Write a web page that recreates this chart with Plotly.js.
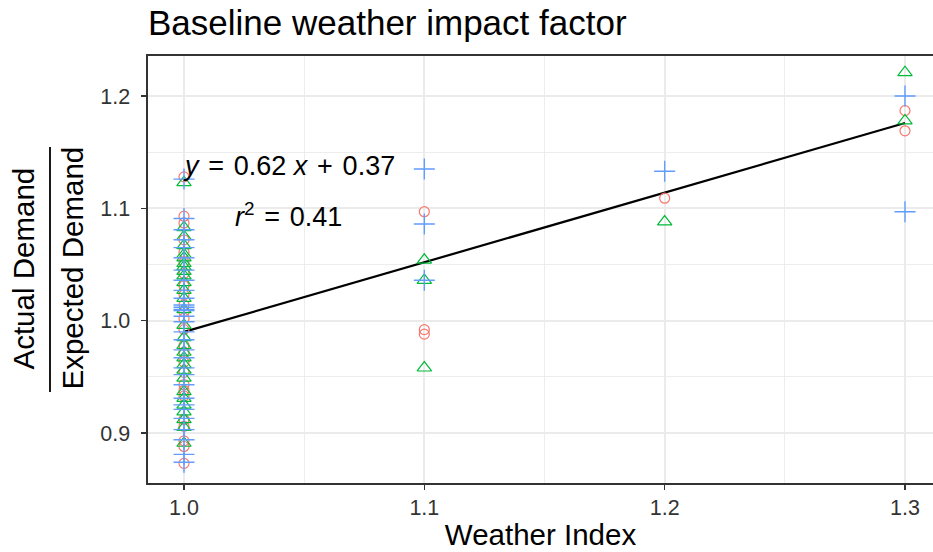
<!DOCTYPE html>
<html>
<head>
<meta charset="utf-8">
<script src="https://cdn.plot.ly/plotly-3.0.1.min.js"></script>
<style>html,body{margin:0;padding:0;background:#fff;}#chart{width:933px;height:552px;}</style>
</head>
<body>
<div id="chart"></div>
<script>
// ---- data ----
var circleX = [1.0,1.0,1.0,1.0,1.0,1.0,1.0,1.0,1.0,1.0,1.0,1.0,1.0,1.0,1.0,1.0,1.0,1.0,1.0,1.0,1.0,1.0,1.0,1.0,1.0,
               1.1,1.1,1.1, 1.2, 1.3,1.3];
var circleY = [1.128,1.093,1.087,1.072,1.061,1.052,1.042,1.031,1.023,1.014,1.008,1.002,0.992,0.978,0.972,0.963,0.954,0.943,0.938,0.933,0.912,0.906,0.893,0.888,0.873,
               1.097,0.992,0.988, 1.109, 1.187,1.169];

var triangleX = [1.0,1.0,1.0,1.0,1.0,1.0,1.0,1.0,1.0,1.0,1.0,1.0,1.0,1.0,1.0,1.0,1.0,1.0,1.0,1.0,1.0,1.0,1.0,1.0,1.0,1.0,1.0,1.0,1.0,
                 1.1,1.1,1.1, 1.2, 1.3,1.3];
var triangleY = [1.123,1.083,1.075,1.067,1.059,1.056,1.051,1.048,1.044,1.040,1.034,1.027,1.020,1.010,0.996,0.985,0.978,0.972,0.967,0.961,0.956,0.949,0.937,0.931,0.925,0.919,0.912,0.905,0.891,
                 1.054,1.036,0.958, 1.088, 1.221,1.178];

var plusX = [1.0,1.0,1.0,1.0,1.0,1.0,1.0,1.0,1.0,1.0,1.0,1.0,1.0,1.0,1.0,1.0,1.0,1.0,1.0,1.0,1.0,1.0,1.0,1.0,1.0,1.0,1.0,1.0,1.0,1.0,1.0,
             1.1,1.1,1.1, 1.2, 1.3,1.3];
var plusY = [1.126,1.091,1.081,1.072,1.065,1.056,1.045,1.036,1.027,1.020,1.014,1.012,1.010,1.009,1.004,0.999,0.990,0.983,0.974,0.967,0.958,0.952,0.943,0.931,0.925,0.921,0.913,0.903,0.894,0.881,0.874,
             1.135,1.086,1.036, 1.133, 1.200,1.097];

var fitSlope = 0.62;
var fitIntercept = 0.37;
var fitRange = [1.0, 1.3];
var r2 = 0.41;

var xTickVals = [1.0, 1.1, 1.2, 1.3];
var yTickVals = [0.9, 1.0, 1.1, 1.2];

// ---- chart ----
var FONT = '"Liberation Sans", Arial, sans-serif';
var fitY = fitRange.map(function (x) { return fitIntercept + fitSlope * x; });

var traces = [
  {x: fitRange, y: fitY, mode: 'lines', type: 'scatter', line: {color: '#000000', width: 2.2}, hoverinfo: 'skip'},
  {x: circleX, y: circleY, mode: 'markers', type: 'scatter', name: 'circle',
   marker: {symbol: 'circle-open', size: 10, color: '#F8766D', line: {width: 1.2, color: '#F8766D'}}},
  {x: triangleX, y: triangleY, mode: 'markers', type: 'scatter', name: 'triangle',
   marker: {symbol: 'triangle-up-open', size: 12.5, color: '#00BA38', line: {width: 1.2, color: '#00BA38'}}},
  {x: plusX, y: plusY, mode: 'markers', type: 'scatter', name: 'plus',
   marker: {symbol: 'cross-thin-open', size: 15, color: '#619CFF', line: {width: 1.4, color: '#619CFF'}}}
];

var L = 148, R = 0, T = 56, B = 69, W = 933, H = 552;
var pw = W - L - R, ph = H - T - B;
function px(p) { return (p - L) / pw; }
function py(p) { return (H - B - p) / ph; }

var SP = ' \u200A';
var layout = {
  width: W, height: H,
  margin: {l: L, r: R, t: T, b: B, pad: 0},
  paper_bgcolor: '#ffffff', plot_bgcolor: '#ffffff',
  showlegend: false,
  font: {family: FONT, color: '#000000'},
  title: {text: 'Baseline weather impact factor', font: {family: FONT, size: 35, color: '#000000'},
          xref: 'paper', x: 0, xanchor: 'left', yref: 'container', y: 1 - 23 / H, yanchor: 'middle'},
  xaxis: {
    range: [0.98502, 1.31165], tickvals: xTickVals, tickformat: '.1f',
    showgrid: true, gridcolor: '#EBEBEB', gridwidth: 1.8,
    minor: {dtick: 0.05, showgrid: true, gridcolor: '#EBEBEB', gridwidth: 0.9, ticks: ''},
    zeroline: false, showline: true, mirror: true, linecolor: '#333333', linewidth: 1.6,
    ticks: 'outside', ticklen: 5, tickwidth: 1.6, tickcolor: '#333333',
    tickfont: {family: FONT, size: 21.5, color: '#333333'},
    title: {text: 'Weather Index', font: {family: FONT, size: 29.5, color: '#000000'}, standoff: 5},
    automargin: false
  },
  yaxis: {
    range: [0.8555, 1.2356], tickvals: yTickVals, tickformat: '.1f',
    showgrid: true, gridcolor: '#EBEBEB', gridwidth: 1.8,
    minor: {dtick: 0.05, showgrid: true, gridcolor: '#EBEBEB', gridwidth: 0.9, ticks: ''},
    zeroline: false, showline: true, mirror: false, linecolor: '#333333', linewidth: 1.6,
    ticks: 'outside', ticklen: 5, tickwidth: 1.6, tickcolor: '#333333',
    ticklabelstandoff: 7,
    tickfont: {family: FONT, size: 21.5, color: '#333333'},
    automargin: false
  },
  annotations: [
    {xref: 'paper', yref: 'paper', x: px(23), y: py(268.5), xanchor: 'center', yanchor: 'middle',
     text: 'Actual Demand', textangle: -90, showarrow: false, font: {family: FONT, size: 29.5, color: '#000000'}},
    {xref: 'paper', yref: 'paper', x: px(72), y: py(268.5), xanchor: 'center', yanchor: 'middle',
     text: 'Expected Demand', textangle: -90, showarrow: false, font: {family: FONT, size: 29.5, color: '#000000'}},
    {xref: 'x', yref: 'y', x: 1.0435, y: 1.138, xanchor: 'center', yanchor: 'middle', showarrow: false,
     text: '<i>y</i>' + SP + '=' + SP + '0.62 <i>x</i>' + SP + '+' + SP + '0.37', font: {family: FONT, size: 27, color: '#000000'}},
    {xref: 'x', yref: 'y', x: 1.0435, y: 1.094, xanchor: 'center', yanchor: 'middle', showarrow: false,
     text: '<i>r</i><sup>2</sup>' + SP + '=' + SP + r2.toFixed(2), font: {family: FONT, size: 27, color: '#000000'}}
  ],
  shapes: [
    {type: 'line', xref: 'paper', yref: 'paper', x0: px(50), x1: px(50), y0: py(147), y1: py(392),
     line: {color: '#000000', width: 1.8}}
  ]
};

Plotly.newPlot('chart', traces, layout, {displayModeBar: false, staticPlot: true});
</script>
</body>
</html>
